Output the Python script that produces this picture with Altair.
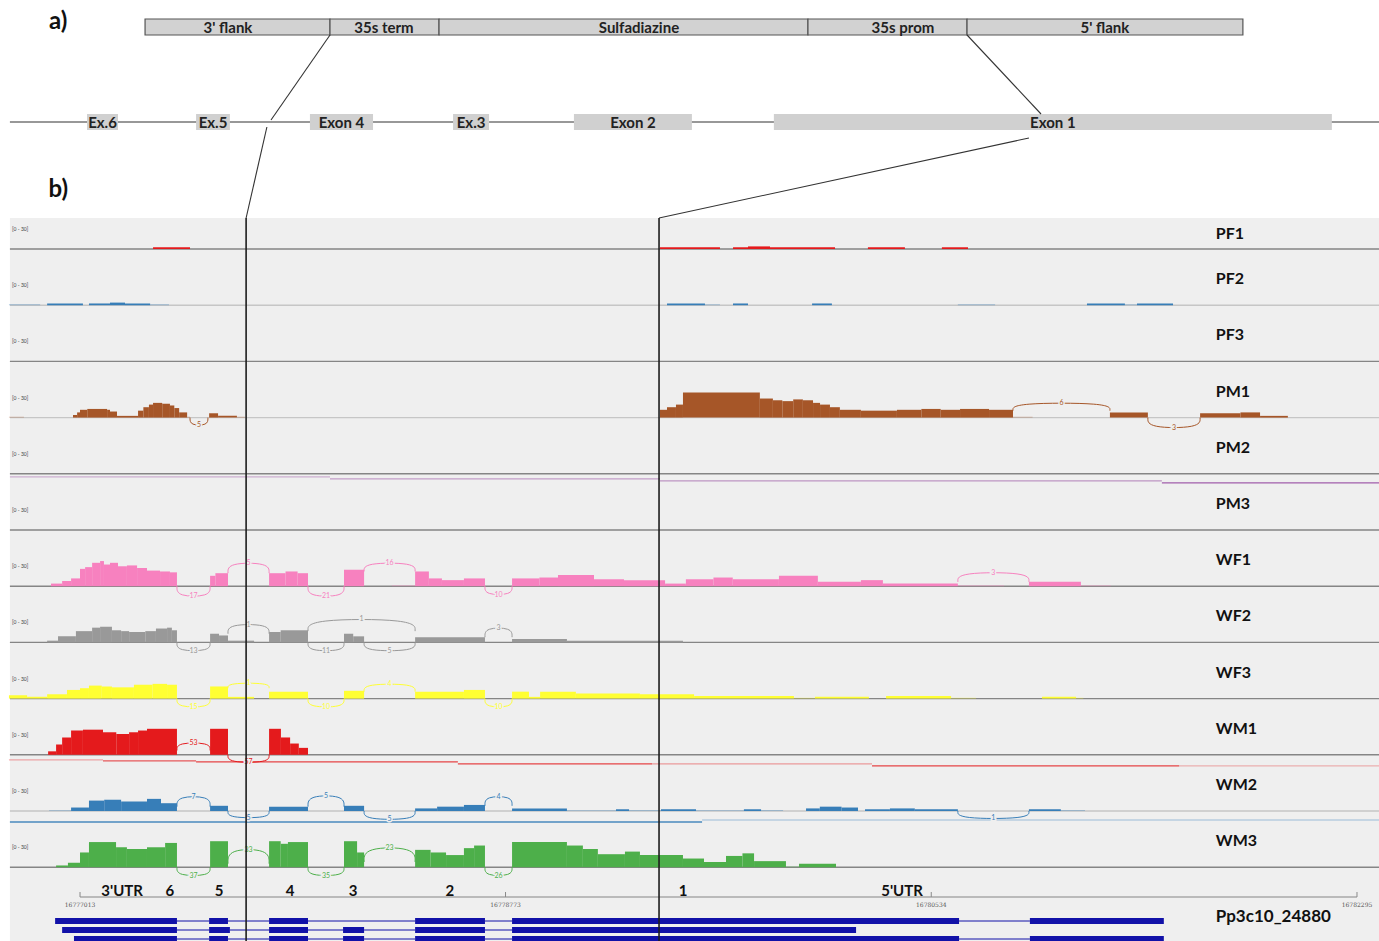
import altair as alt
import pandas as pd

# ---------------------------------------------------------------------------
# Coordinates: x is bp from the first ruler tick (Pp3c10 16,777,013),
# y is layout position in px from the top of the figure.
# ---------------------------------------------------------------------------
REGION_START = 16777013
RULER_TICKS = [16777013, 16778773, 16780534, 16782295]
X_DOMAIN = [-331, 5373]
Y_DOMAIN = [941, 0]

FONT = "Lato"
LEFT_EDGE = -290          # left end of lines / track panel

# ---- panel a: transgene construct and the gene schematic -------------------
CONSTRUCT_BOUNDS = [269, 1034, 1485, 3011, 3669, 4810]
CONSTRUCT_PARTS = ["3' flank", "35s term", "Sulfadiazine", "35s prom", "5' flank"]
CONSTRUCT_LABEL_AT = [612, 1257, 2312, 3404, 4239]
SCHEMATIC_EXONS = ["Ex.6", "Ex.5", "Exon 4", "Ex.3", "Exon 2", "Exon 1"]
SCHEMATIC_START = [29, 480, 951, 1543, 2043, 2870]
SCHEMATIC_END = [157, 620, 1212, 1692, 2531, 5178]
# insertion sites of the construct inside the gene (bp offsets)
INSERT_SITES = [687, 2395]
# where the connector lines meet / leave the schematic gene line
LINE_HITS_ABOVE = [790, 3975]
LINE_HITS_BELOW = [773, 3925]

# ---- panel b: RNA-seq coverage tracks --------------------------------------
TRACKS = ["PF1", "PF2", "PF3", "PM1", "PM2", "PM3",
          "WF1", "WF2", "WF3", "WM1", "WM2", "WM3"]
TRACK_COLORS = ["#e41a1c", "#377eb8", "#4daf4a", "#a65628", "#984ea3", "#ff7f00",
                "#f781bf", "#999999", "#ffff33", "#e41a1c", "#377eb8", "#4daf4a"]
LIGHT_BASELINE = ["PF2", "PM1", "WM2"]
DATA_RANGE = "[0 - 30]"

# coverage as (start bp, end bp, reads)
COVERAGE = {
    "PF1": [(302, 455, 2), (2399, 2647, 2), (2701, 2763, 2), (2763, 2854, 3),
            (2854, 3123, 2), (3259, 3412, 2), (3565, 3673, 2)],
    "PF2": [(-294, -165, 1), (-136, 12, 2), (37, 124, 2), (124, 186, 3), (186, 290, 2),
            (290, 368, 1), (2428, 2585, 2), (2585, 2647, 1), (2701, 2763, 2),
            (3028, 3110, 2), (3631, 3785, 1), (4165, 4322, 2), (4322, 4372, 1),
            (4372, 4521, 2)],
    "PF3": [],
    "PM1": [(-294, -232, 1), (-29, -12, 3), (-12, 0, 6), (0, 30, 9), (30, 112, 10),
            (112, 124, 9), (124, 153, 7), (153, 240, 2), (240, 262, 8), (262, 285, 12),
            (285, 302, 15), (302, 340, 17), (340, 372, 16), (372, 390, 14), (390, 410, 11),
            (410, 443, 6), (443, 455, 1), (534, 571, 5), (571, 649, 2), (649, 682, 1),
            (2399, 2428, 9), (2428, 2465, 12), (2465, 2494, 15), (2494, 2812, 29),
            (2812, 2866, 22), (2866, 2905, 20), (2905, 2950, 19), (2950, 2990, 21),
            (2990, 3032, 20), (3032, 3061, 17), (3061, 3102, 15), (3102, 3143, 12),
            (3143, 3230, 9), (3230, 3309, 8), (3309, 3379, 8), (3379, 3480, 9),
            (3480, 3560, 10), (3560, 3640, 9), (3640, 3760, 10), (3760, 3859, 9),
            (3859, 3940, 1), (4260, 4417, 6), (4633, 4800, 5), (4800, 4881, 6),
            (4881, 4996, 2)],
    "PM2": [],
    "PM3": [],
    "WF1": [(-120, -74, 3), (-74, -37, 6), (-37, 0, 9), (0, 21, 20), (21, 50, 22),
            (50, 83, 27), (83, 99, 29), (99, 124, 25), (124, 157, 27), (157, 194, 23),
            (194, 236, 24), (236, 277, 21), (277, 331, 18), (331, 372, 17), (372, 401, 16),
            (538, 560, 12), (560, 612, 15), (782, 850, 15), (850, 900, 17), (900, 943, 15),
            (1092, 1175, 19), (1290, 1386, 1), (1386, 1443, 17), (1443, 1497, 9),
            (1497, 1588, 7), (1588, 1675, 9), (1787, 1900, 9), (1900, 1977, 10),
            (1977, 2126, 13), (2126, 2250, 8), (2250, 2420, 7), (2420, 2506, 3),
            (2506, 2620, 8), (2620, 2700, 10), (2700, 2891, 8), (2891, 3052, 12),
            (3052, 3230, 5), (3230, 3321, 7), (3321, 3631, 3), (3631, 3822, 1),
            (3925, 4140, 5), (4140, 4264, 1)],
    "WF2": [(-136, -91, 2), (-91, -17, 7), (-17, 50, 13), (50, 83, 17), (83, 132, 18),
            (132, 170, 14), (170, 203, 13), (203, 270, 12), (270, 314, 13), (314, 360, 16),
            (360, 380, 17), (380, 401, 14), (538, 575, 10), (575, 612, 8), (612, 720, 2),
            (782, 830, 12), (830, 943, 14), (1092, 1130, 10), (1130, 1175, 7),
            (1386, 1675, 6), (1787, 2014, 4), (2014, 2494, 2)],
    "WF3": [(-294, -219, 4), (-219, -136, 2), (-136, -54, 5), (-54, 0, 10), (0, 37, 12),
            (37, 90, 15), (90, 132, 14), (132, 223, 13), (223, 300, 16), (300, 360, 17),
            (360, 401, 16), (538, 612, 14), (612, 720, 2), (782, 943, 8),
            (1092, 1175, 9), (1386, 1588, 8), (1588, 1675, 10), (1787, 1857, 8),
            (1857, 1903, 2), (1903, 2051, 8), (2051, 2316, 6), (2316, 2540, 5),
            (2540, 2953, 3), (2953, 3040, 1), (3040, 3263, 2), (3334, 3603, 3),
            (3603, 3706, 1), (3979, 4120, 2), (4120, 4150, 1)],
    "WM1": [(-132, -99, 4), (-99, -74, 12), (-74, -37, 20), (-37, 12, 28), (12, 95, 29),
            (95, 150, 26), (150, 203, 24), (203, 240, 26), (240, 277, 28), (277, 401, 30),
            (538, 612, 30), (782, 831, 30), (831, 869, 20), (869, 905, 13), (905, 943, 8)],
    "WM2": [(-128, -37, 1), (-37, 37, 4), (37, 100, 12), (100, 170, 13), (170, 277, 11),
            (277, 335, 14), (335, 401, 9), (538, 612, 6), (782, 943, 5), (1092, 1175, 6),
            (1386, 1477, 3), (1477, 1588, 5), (1588, 1675, 7), (1787, 2014, 3),
            (2014, 2217, 1), (2217, 2271, 2), (2271, 2403, 1), (2403, 2548, 2),
            (2548, 2746, 1), (2746, 2817, 2), (2817, 2908, 1), (3003, 3060, 3),
            (3060, 3150, 5), (3150, 3218, 4), (3247, 3350, 2), (3350, 3453, 3),
            (3453, 3631, 2), (3925, 4057, 2), (4057, 4157, 1)],
    "WM3": [(-99, -50, 2), (-50, 0, 5), (0, 37, 17), (37, 149, 29), (149, 194, 23),
            (194, 277, 21), (277, 352, 23), (352, 401, 28), (538, 612, 30), (782, 830, 30),
            (830, 860, 27), (860, 943, 29), (1092, 1146, 30), (1146, 1175, 17),
            (1386, 1450, 20), (1450, 1514, 17), (1514, 1588, 14), (1588, 1630, 22),
            (1630, 1675, 25), (1787, 2014, 29), (2014, 2080, 25), (2080, 2142, 21),
            (2142, 2254, 15), (2254, 2316, 18), (2316, 2494, 14), (2494, 2581, 10),
            (2581, 2672, 6), (2672, 2740, 13), (2740, 2788, 16), (2788, 2920, 7),
            (2920, 2974, 1), (2974, 3127, 4)],
}

# splice junctions as (start bp, end bp, read count, foot level, apex level);
# levels are in reads, negative apex = arc drawn below the track baseline
JUNCTIONS = {
    "PM1": [(455, 529, "5", 0, -9), (3859, 4260, "6", 8, 17), (4417, 4633, "3", 0, -12)],
    "WF1": [(401, 538, "17", 0, -12), (612, 782, "5", 15, 27), (943, 1092, "21", 0, -12),
            (1175, 1386, "16", 17, 27), (1675, 1787, "10", 0, -10), (3631, 3925, "3", 5, 16)],
    "WF2": [(401, 538, "13", 0, -10), (612, 782, "1", 10, 21), (943, 1386, "1", 13, 27),
            (943, 1092, "11", 0, -10), (1175, 1386, "5", 0, -10), (1675, 1787, "3", 6, 17)],
    "WF3": [(401, 538, "15", 0, -10), (612, 782, "1", 12, 18), (943, 1092, "10", 0, -10),
            (1175, 1386, "4", 8, 17), (1675, 1787, "10", 0, -10)],
    "WM1": [(401, 538, "53", 5, 14), (612, 782, "57", 0, -9)],
    "WM2": [(401, 538, "7", 5, 17), (612, 782, "5", 0, -8), (943, 1092, "5", 5, 18),
            (1175, 1386, "5", 0, -10), (1675, 1787, "4", 6, 17), (3631, 3925, "1", 0, -9)],
    "WM3": [(401, 538, "37", 0, -10), (612, 782, "33", 4, 21), (943, 1092, "35", 0, -10),
            (1175, 1386, "23", 6, 23), (1675, 1787, "26", 0, -10)],
}

# faint feature lines under some tracks: (start bp, end bp, px below baseline, opacity)
TRACES = {
    "PM2": [(-290, 1034, 3, 0.4), (1034, 2399, 5, 0.5), (2399, 4475, 7, 0.55),
            (4475, 5373, 9, 0.9)],
    "WM1": [(-294, 95, 5, 0.35), (95, 480, 6, 0.7), (480, 1563, 7, 0.8),
            (1563, 2366, 9, 0.8), (2366, 3276, 9, 0.4), (3276, 4546, 11, 0.8),
            (4546, 5373, 11, 0.3)],
    "WM2": [(-290, 2573, 11, 0.9), (2573, 5373, 9, 0.3)],
}

# ---- gene model Pp3c10_24880 (three transcripts) --------------------------
GENE_NAME = "Pp3c10_24880"
TRANSCRIPTS = [
    [(-103, 401), (534, 612), (782, 943), (1386, 1675), (1787, 3636), (3929, 4483)],
    [(-74, 401), (534, 620), (782, 943), (1088, 1175), (1386, 1675), (1787, 3210)],
    [(-25, 401), (534, 612), (782, 943), (1088, 1175), (1386, 1675), (1787, 3636),
     (3929, 4483)],
]
EXON_NUMBERS = ["3'UTR", "6", "5", "4", "3", "2", "1", "5'UTR"]
EXON_NUMBER_POS = [174, 372, 575, 869, 1129, 1530, 2494, 3400]
GENE_COLOR = "#1111a8"

# ---- layout (px) ------------------------------------------------------------
BAR_TOP, BAR_BOTTOM = 19, 35
GENE_LINE_Y = 122
BOX_TOP, BOX_BOTTOM = 114, 130
TRACK_TOP, PLOT_BOTTOM = 218, 941
FIRST_BASELINE, TRACK_STEP = 249, 56.2
PX_PER_READ = 26 / 30
LABEL_X = 4698
RULER_Y = 897
GENE_ROW_Y, GENE_ROW_STEP = 921, 9

XS = alt.Scale(domain=X_DOMAIN, nice=False, zero=False)
YS = alt.Scale(domain=Y_DOMAIN, nice=False, zero=False)


def X(f):
    return alt.X(f"{f}:Q", scale=XS, axis=None)


def Y(f):
    return alt.Y(f"{f}:Q", scale=YS, axis=None)


def NOCOL(f="color"):
    return alt.Color(f"{f}:N", scale=None)


layers = []

# track panel background
bg = pd.DataFrame([dict(x=LEFT_EDGE, x2=X_DOMAIN[1], y=TRACK_TOP, y2=PLOT_BOTTOM)])
layers.append(alt.Chart(bg).mark_rect(color="#efefef").encode(
    x=X("x"), x2="x2", y=Y("y"), y2="y2"))

base_of = {n: FIRST_BASELINE + TRACK_STEP * i for i, n in enumerate(TRACKS)}
color_of = dict(zip(TRACKS, TRACK_COLORS))

# track baselines
rows = [dict(x=LEFT_EDGE, x2=X_DOMAIN[1], y=base_of[n],
             color="#c6c6c6" if n in LIGHT_BASELINE else "#858585") for n in TRACKS]
layers.append(alt.Chart(pd.DataFrame(rows)).mark_rule(strokeWidth=1.4).encode(
    x=X("x"), x2="x2", y=Y("y"), color=NOCOL()))

# faint feature lines
rows = []
for n, segs in TRACES.items():
    for s, e, d, op in segs:
        rows.append(dict(x=s, x2=e, y=base_of[n] + d, color=color_of[n], op=op))
layers.append(alt.Chart(pd.DataFrame(rows)).mark_rule(strokeWidth=1.3).encode(
    x=X("x"), x2="x2", y=Y("y"), color=NOCOL(),
    opacity=alt.Opacity("op:Q", scale=None)))

# coverage
rows = []
for n in TRACKS:
    b = base_of[n]
    for s, e, r in COVERAGE[n]:
        rows.append(dict(x=s, x2=e, y=b, y2=b - min(r, 30) * PX_PER_READ,
                         color=color_of[n], op=0.4 if r <= 1 else 1.0))
layers.append(alt.Chart(pd.DataFrame(rows)).mark_rect().encode(
    x=X("x"), x2="x2", y=Y("y"), y2="y2", color=NOCOL(),
    opacity=alt.Opacity("op:Q", scale=None)))

# sashimi arcs and their counts
arc_rows, lab_rows = [], []
for n, juncs in JUNCTIONS.items():
    b = base_of[n]
    for j, (s, e, cnt, foot, apex) in enumerate(juncs):
        yf, ya = b - foot * PX_PER_READ, b - apex * PX_PER_READ
        for k, (px, py) in enumerate([(s, yf), (s, ya), (e, ya), (e, yf)]):
            arc_rows.append(dict(jid=f"{n}-{j}", k=k, x=px, y=py, color=color_of[n]))
        lab_rows.append(dict(x=(s + e) / 2, y=b - (foot + (apex - foot) * 0.96) * PX_PER_READ,
                             t=cnt, color=color_of[n]))
layers.append(alt.Chart(pd.DataFrame(arc_rows)).mark_line(
    interpolate="basis", strokeWidth=1).encode(
    x=X("x"), y=Y("y"), detail="jid:N", order="k:Q", color=NOCOL()))
labs = pd.DataFrame(lab_rows)
layers.append(alt.Chart(labs).mark_text(
    fontSize=7, font=FONT, color="#efefef", stroke="#efefef", strokeWidth=3).encode(
    x=X("x"), y=Y("y"), text="t:N"))
layers.append(alt.Chart(labs).mark_text(fontSize=7, font=FONT).encode(
    x=X("x"), y=Y("y"), text="t:N", color=NOCOL()))

# track names and data ranges
rows = [dict(x=LABEL_X, y=max(base_of[n] - 26, 234), t=n) for n in TRACKS]
layers.append(alt.Chart(pd.DataFrame(rows)).mark_text(
    align="left", baseline="middle", fontSize=16, fontWeight="bold", font=FONT,
    color="#111111").encode(x=X("x"), y=Y("y"), text="t:N"))
rows = [dict(x=-281, y=base_of[n] - 20, t=DATA_RANGE) for n in TRACKS]
layers.append(alt.Chart(pd.DataFrame(rows)).mark_text(
    align="left", baseline="middle", fontSize=5, font=FONT, color="#444444").encode(
    x=X("x"), y=Y("y"), text="t:N"))

# ruler with genomic coordinates
ticks = pd.DataFrame(dict(x=[t - REGION_START for t in RULER_TICKS],
                          t=[str(t) for t in RULER_TICKS]))
ruler = pd.DataFrame([dict(x=ticks.x.min(), x2=ticks.x.max(), y=RULER_Y)])
layers.append(alt.Chart(ruler).mark_rule(color="#a8a8a8", strokeWidth=1.5).encode(
    x=X("x"), x2="x2", y=Y("y")))
layers.append(alt.Chart(ticks.assign(y=RULER_Y - 5, y2=RULER_Y)).mark_rule(
    color="#8a8a8a").encode(x=X("x"), y=Y("y"), y2="y2"))
layers.append(alt.Chart(ticks.assign(y=RULER_Y + 8)).mark_text(
    fontSize=6, font="DejaVu Serif", color="#555555").encode(
    x=X("x"), y=Y("y"), text="t:N"))

# exon numbering
nums = pd.DataFrame(dict(x=EXON_NUMBER_POS, t=EXON_NUMBERS, y=RULER_Y - 6))
layers.append(alt.Chart(nums).mark_text(
    fontSize=15, fontWeight="bold", font=FONT, color="#111111").encode(
    x=X("x"), y=Y("y"), text="t:N"))

# transcripts
ex_rows, in_rows = [], []
for r, exons in enumerate(TRANSCRIPTS):
    yc = GENE_ROW_Y + GENE_ROW_STEP * r
    for s, e in exons:
        ex_rows.append(dict(x=s, x2=e, y=yc - 3, y2=yc + 3))
    for (s0, e0), (s1, e1) in zip(exons[:-1], exons[1:]):
        in_rows.append(dict(x=e0, x2=s1, y=yc))
layers.append(alt.Chart(pd.DataFrame(in_rows)).mark_rule(
    color=GENE_COLOR, strokeWidth=1).encode(x=X("x"), x2="x2", y=Y("y")))
layers.append(alt.Chart(pd.DataFrame(ex_rows)).mark_rect(color=GENE_COLOR).encode(
    x=X("x"), x2="x2", y=Y("y"), y2="y2"))
layers.append(alt.Chart(pd.DataFrame([dict(x=LABEL_X, y=GENE_ROW_Y - 4, t=GENE_NAME)])).mark_text(
    align="left", baseline="middle", fontSize=17, fontWeight="bold", font=FONT,
    color="#111111").encode(x=X("x"), y=Y("y"), text="t:N"))

# ---- panel a ---------------------------------------------------------------
parts = pd.DataFrame(dict(x=CONSTRUCT_BOUNDS[:-1], x2=CONSTRUCT_BOUNDS[1:],
                          t=CONSTRUCT_PARTS, xm=CONSTRUCT_LABEL_AT,
                          y=BAR_TOP, y2=BAR_BOTTOM))
parts["ym"] = (BAR_TOP + BAR_BOTTOM) / 2 + 1
layers.append(alt.Chart(parts).mark_rect(
    fill="#d2d2d2", stroke="#555555", strokeWidth=1.2).encode(
    x=X("x"), x2="x2", y=Y("y"), y2="y2"))
layers.append(alt.Chart(parts).mark_text(
    fontSize=15, fontWeight="bold", font=FONT, color="#222222").encode(
    x=X("xm"), y=Y("ym"), text="t:N"))

gene_line = pd.DataFrame([dict(x=LEFT_EDGE, x2=X_DOMAIN[1], y=GENE_LINE_Y)])
layers.append(alt.Chart(gene_line).mark_rule(color="#333333", strokeWidth=1.2).encode(
    x=X("x"), x2="x2", y=Y("y")))
boxes = pd.DataFrame(dict(x=SCHEMATIC_START, x2=SCHEMATIC_END, t=SCHEMATIC_EXONS,
                          y=BOX_TOP, y2=BOX_BOTTOM))
boxes["xm"] = (boxes.x + boxes.x2) / 2
boxes["ym"] = GENE_LINE_Y + 1
layers.append(alt.Chart(boxes).mark_rect(color="#d0d0d0").encode(
    x=X("x"), x2="x2", y=Y("y"), y2="y2"))
layers.append(alt.Chart(boxes).mark_text(
    fontSize=15, fontWeight="bold", font=FONT, color="#222222").encode(
    x=X("xm"), y=Y("ym"), text="t:N"))

# connectors from the construct to the insertion sites
starts = [CONSTRUCT_BOUNDS[1], CONSTRUCT_BOUNDS[4]]
hit_gap_above = [2, 8]
hit_gap_below = [5, 16]
con = []
for s, ha, hb, site, ga, gb in zip(starts, LINE_HITS_ABOVE, LINE_HITS_BELOW,
                                   INSERT_SITES, hit_gap_above, hit_gap_below):
    con.append(dict(x=s, y=BAR_BOTTOM, x2=ha, y2=GENE_LINE_Y - ga))
    con.append(dict(x=hb, y=GENE_LINE_Y + gb, x2=site, y2=TRACK_TOP))
layers.append(alt.Chart(pd.DataFrame(con)).mark_rule(color="#333333", strokeWidth=1.1).encode(
    x=X("x"), y=Y("y"), x2="x2", y2="y2"))
vert = pd.DataFrame(dict(x=INSERT_SITES, y=TRACK_TOP, y2=PLOT_BOTTOM))
layers.append(alt.Chart(vert).mark_rule(color="#1e1e1e", strokeWidth=1.6).encode(
    x=X("x"), y=Y("y"), y2="y2"))

# panel letters
letters = pd.DataFrame(dict(t=["a)", "b)"], y=[22, 190], x=[-90, -90]))
layers.append(alt.Chart(letters).mark_text(
    fontSize=24, fontWeight="bold", font=FONT, color="#111111", baseline="middle").encode(
    x=X("x"), y=Y("y"), text="t:N"))

chart = alt.layer(*layers).properties(
    width=1379, height=941, padding=0, autosize="none", background="white"
).configure_view(stroke=None)

chart.save("out.html", embed_options={"renderer": "svg", "actions": False})
